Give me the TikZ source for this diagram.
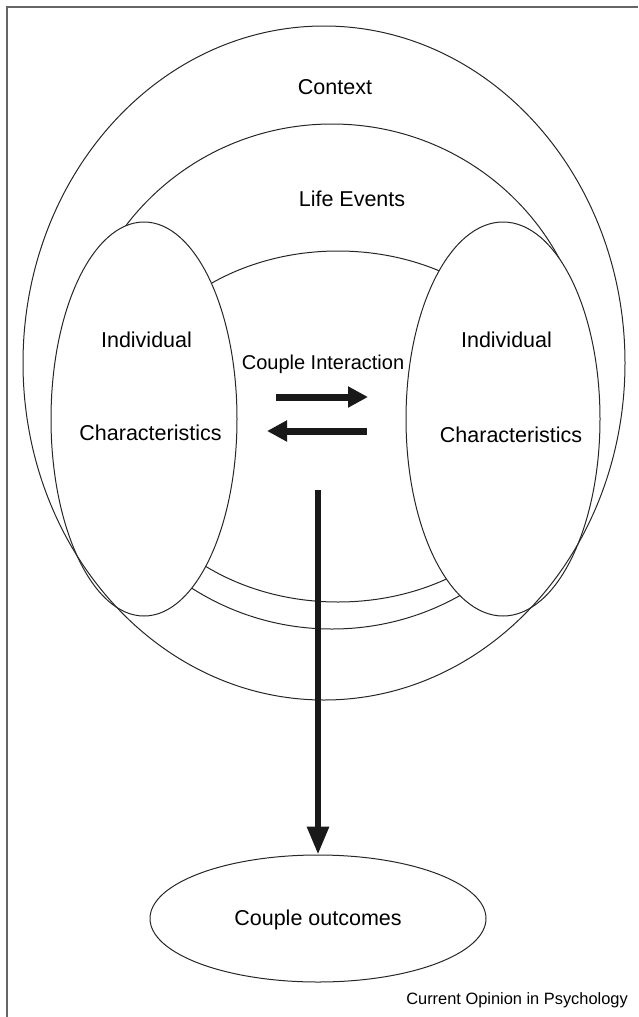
\documentclass[tikz,border=0pt]{standalone}
\usepackage{fontspec}
\setmainfont{Liberation Sans}
\usetikzlibrary{arrows.meta,positioning,shapes.geometric}

\begin{document}
\begin{tikzpicture}[
  x=1pt, y=-1pt,
  every node/.style={font=\fontsize{21.5}{24}\selectfont, inner sep=0pt},
  ring/.style={ellipse, draw=black!85, line width=1pt},
  person/.style={ellipse, draw=black!85, line width=1pt, fill=white},
  arrow/.style={-{Triangle[length=20pt,width=20pt]}, line width=7pt, black!90},
  bigarrow/.style={-{Triangle[length=28pt,width=21pt]}, line width=6pt, black!90},
  ]

\useasboundingbox (0,0) rectangle (638,1017);

% Frame (only the top and left edges show)
\draw[black!60, line width=2pt] (7,1017) -- (7,7) -- (638,7);

% Inner rings (the partners hide part of them)
\node (lifeevents) [ring, minimum width=514pt, minimum height=505pt] at (332,376.5) {};
\node (interaction) [ring, minimum width=438pt, minimum height=351pt] at (338,426.5) {};

% The two partners
\node (partnerL) [person, minimum width=186pt, minimum height=394pt] at (144,419) {};
\node (partnerR) [person, minimum width=194pt, minimum height=394pt] at (503,419) {};

% Context ring on top
\node (context) [ring, minimum width=602pt, minimum height=674pt] at (324,363) {};

% Outcome
\node (outcomes) [ring, minimum width=336pt, minimum height=127pt] at (318,918.5) {};

% Labels
\node (contextlbl) at (335,87) {Context};
\node (lifelbl) at (352,199) {Life Events};
\node (indivL) at (146.5,340) {Individual};
\node (charL) [below=77pt of indivL, xshift=4pt] {Characteristics};
\node (indivR) at (506.5,340) {Individual};
\node (charR) [below=79pt of indivR, xshift=4.5pt] {Characteristics};
\node (interlbl) [font=\fontsize{20}{22}\selectfont] at (323,364) {Couple Interaction};
\node (outlbl) at (318,920) {Couple outcomes};
\node (source) [font=\fontsize{16.4}{18}\selectfont, anchor=east] at (628,1000) {Current Opinion in Psychology};

% Arrows
\coordinate (toL) at (276,397);
\coordinate (toR) at (368,397);
\coordinate (backR) at (367,431);
\coordinate (backL) at (267,431);
\coordinate (down) at (318,490);

\draw[arrow] (toL) -- (toR);
\draw[arrow] (backR) -- (backL);
\draw[bigarrow] (down) -- (outcomes.north);

\end{tikzpicture}
\end{document}
